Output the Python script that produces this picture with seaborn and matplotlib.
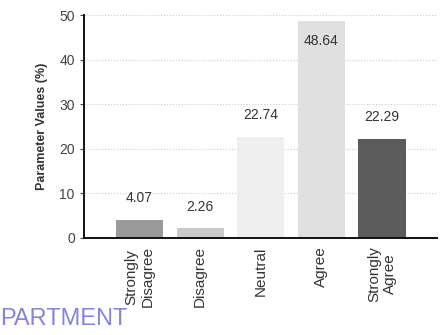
"""
Response distribution bar chart (Likert scale)
"""

import pandas as pd
import matplotlib
matplotlib.use('Agg')
import matplotlib.pyplot as plt
import seaborn as sns

# Data
categories = ['Strongly\nDisagree', 'Disagree', 'Neutral', 'Agree', 'Strongly\nAgree']
values = [4.07, 2.26, 22.74, 48.64, 22.29]
bar_colors = ['#9a9a9a', '#cbcbcb', '#efefef', '#e0e0e0', '#5c5c5c']
y_ticks = [0, 10, 20, 30, 40, 50]

df = pd.DataFrame({'Response': categories, 'Value': values})

sns.set_style('white')
plt.rcParams['font.family'] = ['Liberation Sans', 'DejaVu Sans']

fig = plt.figure(figsize=(4.41, 3.35), dpi=100)
ax = fig.add_axes([0.19, 0.29, 0.80, 0.665])

sns.barplot(data=df, x='Response', y='Value', hue='Response',
            palette=bar_colors, legend=False, width=0.78, ax=ax,
            edgecolor='none')

# value labels above bars (the tallest one sits inside its bar top)
for i, v in enumerate(values):
    ax.text(i, min(v + 3.2, 42.5), f'{v:.2f}', ha='center', va='bottom',
            fontsize=10, color='#333333')

ax.set_ylim(0, 50)
ax.set_xlim(-0.92, 4.9)
ax.set_yticks(y_ticks)
ax.yaxis.grid(True, linestyle=':', color='#cccccc', linewidth=0.8)
ax.set_axisbelow(True)

for s in ['top', 'right']:
    ax.spines[s].set_visible(False)
ax.spines['left'].set_color('#111111')
ax.spines['left'].set_linewidth(1.4)
ax.spines['bottom'].set_color('#111111')
ax.spines['bottom'].set_linewidth(1.4)

ax.tick_params(axis='y', labelsize=10, labelcolor='#444444', length=3,
               left=True, color='#444444')
ax.tick_params(axis='x', labelsize=11, labelcolor='#333333', length=0,
               rotation=90, pad=6)
ax.set_xlabel('')
ax.set_ylabel('Parameter Values (%)', fontsize=9, fontweight='bold',
              color='#333333', labelpad=8)

# stamp text visible in the scan
fig.text(0.0, 0.03, 'PARTMENT', fontsize=17, color='#6f6fd8', alpha=0.85)

plt.savefig('out.png', dpi=100)
plt.close()
